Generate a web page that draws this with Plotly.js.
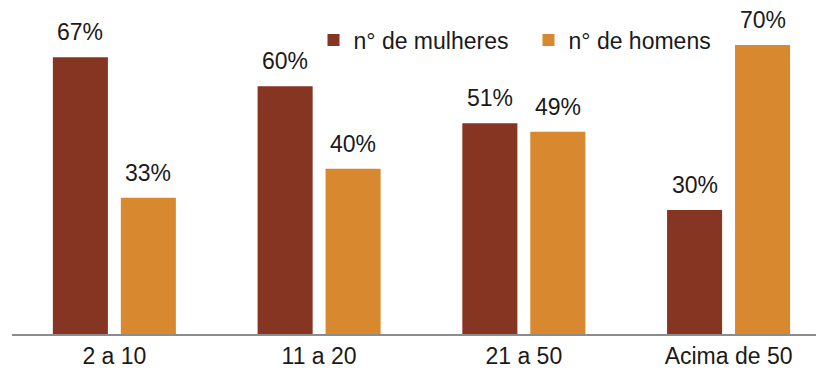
<!DOCTYPE html>
<html>
<head>
<meta charset="utf-8">
<script src="https://cdn.plot.ly/plotly-3.0.1.min.js"></script>
<style>html,body{margin:0;padding:0;background:#fff;}#chart{width:816px;height:376px;}</style>
</head>
<body>
<div id="chart"></div>
<script>
const categories = ["2 a 10", "11 a 20", "21 a 50", "Acima de 50"];
const mulheres = [67, 60, 51, 30];
const homens = [33, 40, 49, 70];
const seriesNames = ["n° de mulheres", "n° de homens"];
const colors = ["#863523", "#D8892F"];

const FONT = "Liberation Sans, Arial, sans-serif";
const traces = [
  {type: "bar", x: categories, y: mulheres, name: seriesNames[0], marker: {color: colors[0]}, hoverinfo: "none"},
  {type: "bar", x: categories, y: homens, name: seriesNames[1], marker: {color: colors[1]}, hoverinfo: "none"}
];

const annotations = [];
[mulheres, homens].forEach((vals, si) => {
  vals.forEach((v, i) => {
    annotations.push({
      x: categories[i], y: v, xref: "x", yref: "y",
      xshift: si === 0 ? -34 : 34, yshift: 10,
      yanchor: "bottom", xanchor: "center",
      text: v + "%", showarrow: false,
      font: {family: FONT, size: 23, color: "#1a1a1a"}
    });
  });
});

const layout = {
  width: 816, height: 376,
  margin: {l: 12, r: 0, t: 0, b: 42},
  paper_bgcolor: "#fff", plot_bgcolor: "#fff",
  barmode: "group", bargap: 0.336, bargroupgap: 0.19,
  font: {family: FONT, size: 23, color: "#1a1a1a"},
  xaxis: {
    type: "category", range: [-0.5, 3.427],
    showline: true, linecolor: "#8c8c8c", linewidth: 2,
    showgrid: false, zeroline: false, ticks: "", fixedrange: true,
    tickfont: {family: FONT, size: 23, color: "#1a1a1a"}
  },
  yaxis: {
    range: [0, 80.87], showgrid: false, zeroline: false,
    showticklabels: false, showline: false, ticks: "", fixedrange: true
  },
  showlegend: true,
  legend: {
    orientation: "h", x: 0.375, y: 1 - 40/334, xanchor: "left", yanchor: "middle",
    font: {family: FONT, size: 23, color: "#1a1a1a"},
    bgcolor: "rgba(0,0,0,0)", traceorder: "normal",
    entrywidth: 170, entrywidthmode: "pixels"
  },
  annotations: annotations
};

Plotly.newPlot("chart", traces, layout, {displayModeBar: false, staticPlot: true});
</script>
</body>
</html>
